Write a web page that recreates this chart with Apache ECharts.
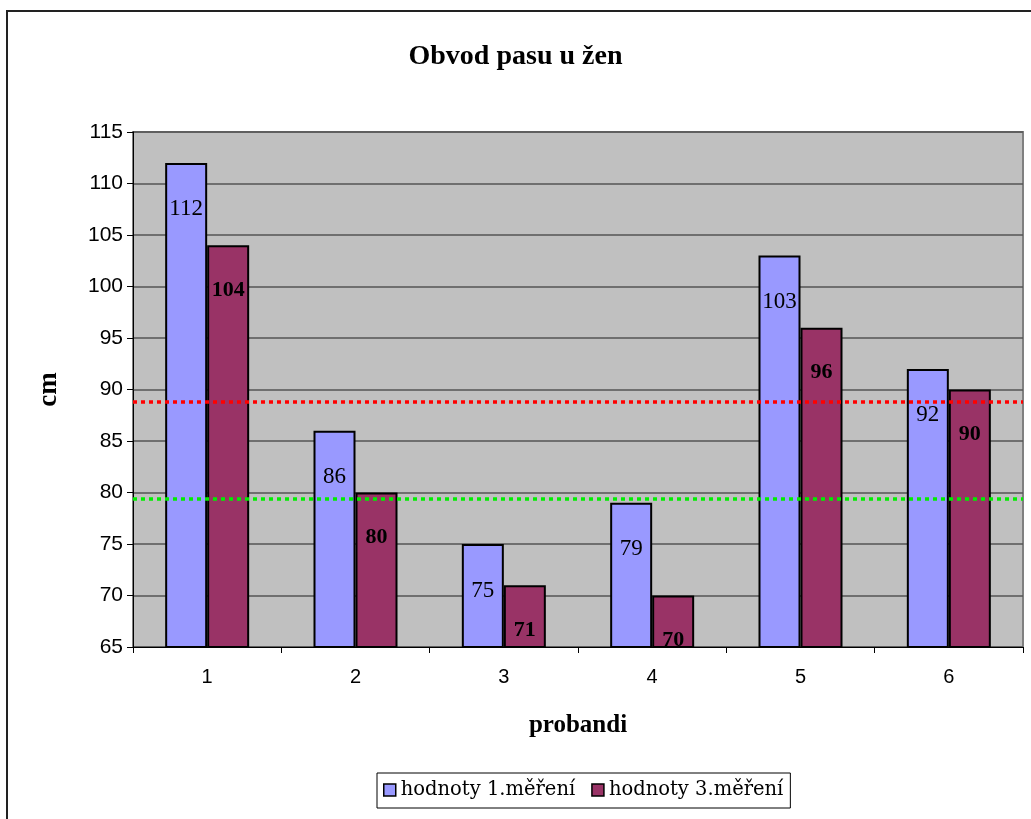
<!DOCTYPE html>
<html>
<head>
<meta charset="utf-8">
<script src="https://cdn.jsdelivr.net/npm/echarts@6/dist/echarts.min.js"></script>
<style>html,body{margin:0;padding:0;background:#fff;}#c{width:1031px;height:819px;}</style>
</head>
<body>
<div id="c"></div>
<script>
var categories = ['1', '2', '3', '4', '5', '6'];
var mereni1 = [112, 86, 75, 79, 103, 92];
var mereni3 = [104, 80, 71, 70, 96, 90];
var seriesNames = ['hodnoty 1.měření', 'hodnoty 3.měření'];
var redLimit = 88.8;
var greenLimit = 79.4;
var yTicks = {min: 65, max: 115, step: 5};

var chart = echarts.init(document.getElementById('c'), null, {renderer: 'canvas'});
var serif = '"Liberation Serif", "Times New Roman", serif';
var sans = '"Liberation Sans", Arial, sans-serif';

chart.setOption({
  animation: false,
  backgroundColor: '#ffffff',
  graphic: [{
    type: 'rect', silent: true, z: -10,
    shape: {x: 7, y: 11, width: 1100, height: 900},
    style: {fill: 'none', stroke: '#222', lineWidth: 2}
  }],
  title: {
    text: 'Obvod pasu u žen',
    left: 'center', top: 38,
    textStyle: {fontFamily: serif, fontWeight: 'bold', fontSize: 28, color: '#000'}
  },
  legend: {
    data: seriesNames,
    top: 773, left: 377,
    itemWidth: 12, itemHeight: 12, itemGap: 16,
    icon: 'rect',
    borderColor: '#000', borderWidth: 1, padding: [7, 7, 8, 6],
    textStyle: {fontFamily: '"DejaVu Serif", serif', fontSize: 19.5, color: '#000'},
    itemStyle: {borderColor: '#000', borderWidth: 1.5}
  },
  grid: {
    left: 133, top: 132, right: 8, bottom: 172,
    show: true, backgroundColor: '#C0C0C0', borderColor: '#808080', borderWidth: 2
  },
  xAxis: {
    type: 'category', data: categories,
    name: 'probandi', nameLocation: 'middle', nameGap: 66,
    nameTextStyle: {fontFamily: serif, fontWeight: 'bold', fontSize: 25, color: '#000'},
    axisLine: {lineStyle: {color: '#000', width: 1}},
    axisTick: {show: true, length: 6, lineStyle: {color: '#000'}},
    axisLabel: {fontFamily: sans, fontSize: 20, color: '#000', margin: 20}
  },
  yAxis: {
    type: 'value', min: yTicks.min, max: yTicks.max, interval: yTicks.step,
    name: 'cm', nameLocation: 'middle', nameGap: 70, nameRotate: 90,
    nameTextStyle: {fontFamily: serif, fontWeight: 'bold', fontSize: 27, color: '#000'},
    axisLine: {show: true, lineStyle: {color: '#000', width: 1}},
    axisTick: {show: true, length: 6, lineStyle: {color: '#000'}},
    axisLabel: {fontFamily: sans, fontSize: 21, color: '#000', margin: 10},
    splitLine: {show: true, lineStyle: {color: '#555', width: 1.5}}
  },
  series: [{
    name: seriesNames[0], type: 'bar', data: mereni1,
    barWidth: 42, barGap: '0%',
    itemStyle: {color: '#9999FF', borderColor: '#000', borderWidth: 2},
    label: {show: true, position: 'insideTop', distance: 35,
      fontFamily: serif, fontSize: 23, color: '#000'},
    markLine: {
      silent: true, symbol: 'none', label: {show: false},
      data: [
        {yAxis: redLimit, lineStyle: {color: '#FF0000', width: 3.5, type: [4, 4]}},
        {yAxis: greenLimit, lineStyle: {color: '#00EE00', width: 3.5, type: [4, 4]}}
      ]
    },
    z: 2
  }, {
    name: seriesNames[1], type: 'bar', data: mereni3,
    barWidth: 42,
    itemStyle: {color: '#993366', borderColor: '#000', borderWidth: 2},
    label: {show: true, position: 'insideTop', distance: 34,
      fontFamily: serif, fontWeight: 'bold', fontSize: 22, color: '#000'},
    z: 2
  }]
});
</script>
</body>
</html>
